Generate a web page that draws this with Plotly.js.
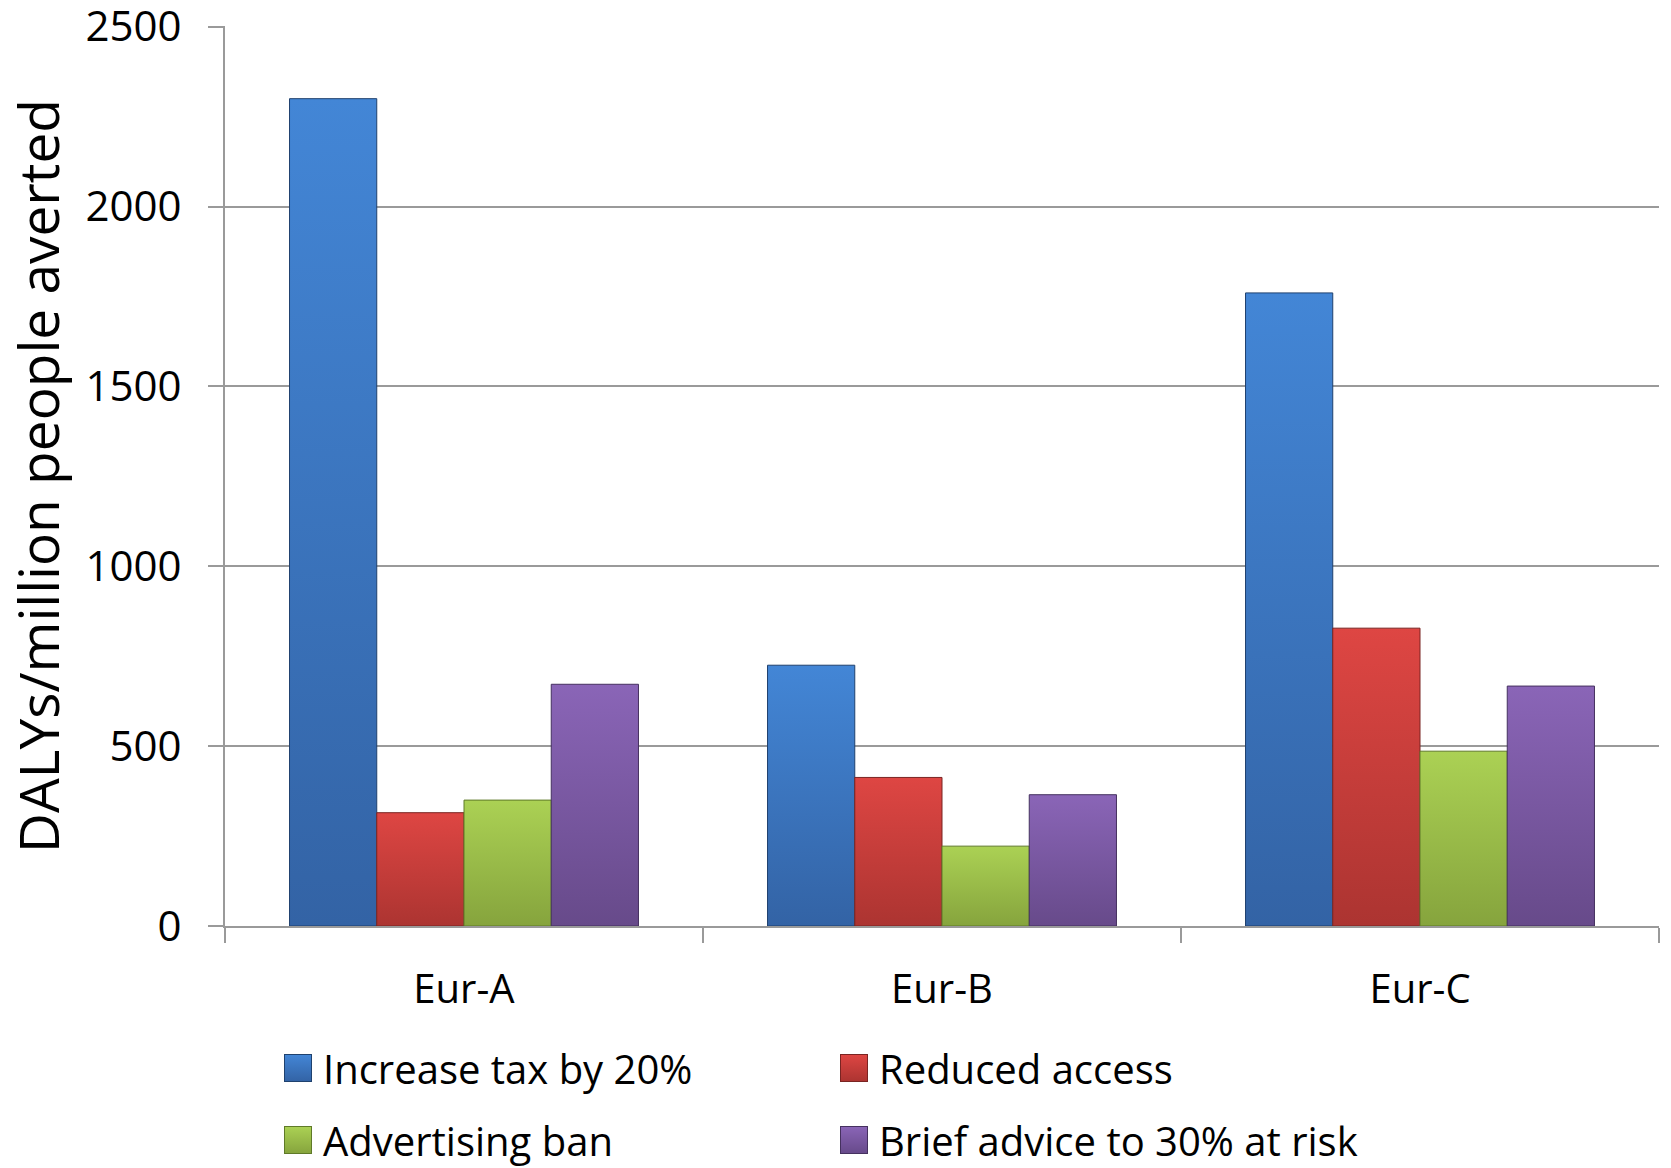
<!DOCTYPE html>
<html>
<head>
<meta charset="utf-8">
<script src="https://cdn.plot.ly/plotly-3.0.1.min.js"></script>
<style>
  html, body { margin: 0; padding: 0; background: #ffffff; }
  #chart { width: 1671px; height: 1168px; }
</style>
</head>
<body>
<div id="chart"></div>
<script>
// Regions of Europe
const regions = ['Eur-A', 'Eur-B', 'Eur-C'];

// DALYs per million people averted, by intervention
const increaseTax = [2300, 725, 1760];
const reducedAccess = [315, 413, 828];
const advertisingBan = [350, 222, 486];
const briefAdvice = [672, 365, 667];

const seriesNames = ['Increase tax by 20%', 'Reduced access', 'Advertising ban', 'Brief advice to 30% at risk'];
const seriesValues = [increaseTax, reducedAccess, advertisingBan, briefAdvice];

// flat fill, outline, gradient top, gradient bottom
const palette = [
  ['#3b74bd', '#1f416e', '#4386d6', '#3363a5'],
  ['#c83e3c', '#7a2422', '#de4643', '#ac3431'],
  ['#98ba48', '#5f7a28', '#abd154', '#86a43d'],
  ['#7b58a0', '#45315f', '#8a65b7', '#674a8a']
];

const FONT = '"Open Sans", "Noto Sans", sans-serif';
const GRID = '#9a9a9a';

const traces = seriesNames.map((name, i) => ({
  type: 'bar',
  name: name,
  x: regions,
  y: seriesValues[i],
  marker: { color: palette[i][0], line: { color: palette[i][1], width: 1 } },
  legend: i < 2 ? 'legend' : 'legend2',
  hoverinfo: 'x+y+name'
}));

const legendBase = {
  orientation: 'h',
  xref: 'container',
  yref: 'container',
  xanchor: 'left',
  yanchor: 'middle',
  entrywidth: 511,
  entrywidthmode: 'pixels',
  bgcolor: 'rgba(0,0,0,0)',
  font: { family: FONT, size: 40, color: '#000000' },
  traceorder: 'normal'
};

const layout = {
  width: 1671,
  height: 1168,
  margin: { l: 225, r: 12, t: 26, b: 242 },
  paper_bgcolor: '#ffffff',
  plot_bgcolor: '#ffffff',
  barmode: 'group',
  bargap: 0.27,
  bargroupgap: 0,
  font: { family: FONT, color: '#000000' },
  showlegend: true,
  legend: Object.assign({}, legendBase, { x: 283 / 1671, y: 1 - 1068 / 1168 }),
  legend2: Object.assign({}, legendBase, { x: 283 / 1671, y: 1 - 1140 / 1168 }),
  xaxis: {
    type: 'category',
    range: [-0.5, 2.5],
    tickson: 'boundaries',
    ticks: 'outside',
    ticklen: 15,
    tickwidth: 2,
    tickcolor: GRID,
    showline: true,
    linecolor: GRID,
    linewidth: 2,
    showgrid: false,
    tickfont: { family: FONT, size: 40, color: '#000000' },
    ticklabelstandoff: 27,
    fixedrange: true
  },
  yaxis: {
    range: [0, 2502],
    tick0: 0,
    dtick: 500,
    ticks: 'outside',
    ticklen: 15,
    tickwidth: 2,
    tickcolor: GRID,
    showline: true,
    linecolor: GRID,
    linewidth: 2,
    showgrid: true,
    gridcolor: GRID,
    gridwidth: 2,
    zeroline: false,
    tickfont: { family: FONT, size: 42, color: '#000000' },
    ticklabelstandoff: 18,
    ticklabeloverflow: 'allow',
    title: { text: 'DALYs/million people averted', font: { family: FONT, size: 55, color: '#000000' }, standoff: 14 },
    fixedrange: true
  }
};

// Vertical shading on bars and enlarged legend swatches
function dress(gd) {
  const svg = gd.querySelector('svg.main-svg');
  if (!svg) return;
  const ns = 'http://www.w3.org/2000/svg';
  let defs = svg.querySelector('defs');
  if (!defs) { defs = document.createElementNS(ns, 'defs'); svg.insertBefore(defs, svg.firstChild); }
  palette.forEach((c, i) => {
    const id = 'barShade' + i;
    if (document.getElementById(id)) return;
    const g = document.createElementNS(ns, 'linearGradient');
    g.setAttribute('id', id);
    g.setAttribute('x1', '0'); g.setAttribute('y1', '0');
    g.setAttribute('x2', '0'); g.setAttribute('y2', '1');
    [[0, c[2]], [1, c[3]]].forEach(([o, col]) => {
      const s = document.createElementNS(ns, 'stop');
      s.setAttribute('offset', o);
      s.setAttribute('stop-color', col);
      g.appendChild(s);
    });
    defs.appendChild(g);
  });
  gd.querySelectorAll('.barlayer .trace').forEach((tr, i) => {
    tr.querySelectorAll('.point path').forEach(p => { p.style.fill = 'url(#barShade' + i + ')'; });
  });
  gd.querySelectorAll('g.legend .traces, g.legend2 .traces, [class^="legend"] .traces').forEach(t => {
    const d = t.__data__;
    const idx = d && d[0] && d[0].trace ? d[0].trace.index : 0;
    t.querySelectorAll('.legendpoints path').forEach(p => {
      p.setAttribute('transform', 'translate(15,0) scale(2.25)');
      p.style.fill = 'url(#barShade' + idx + ')';
      p.style.strokeWidth = '0.45px';
    });
  });
}

const gd = document.getElementById('chart');
Plotly.newPlot(gd, traces, layout, { displayModeBar: false, staticPlot: true }).then(() => {
  dress(gd);
  gd.on('plotly_afterplot', () => dress(gd));
});
</script>
</body>
</html>
